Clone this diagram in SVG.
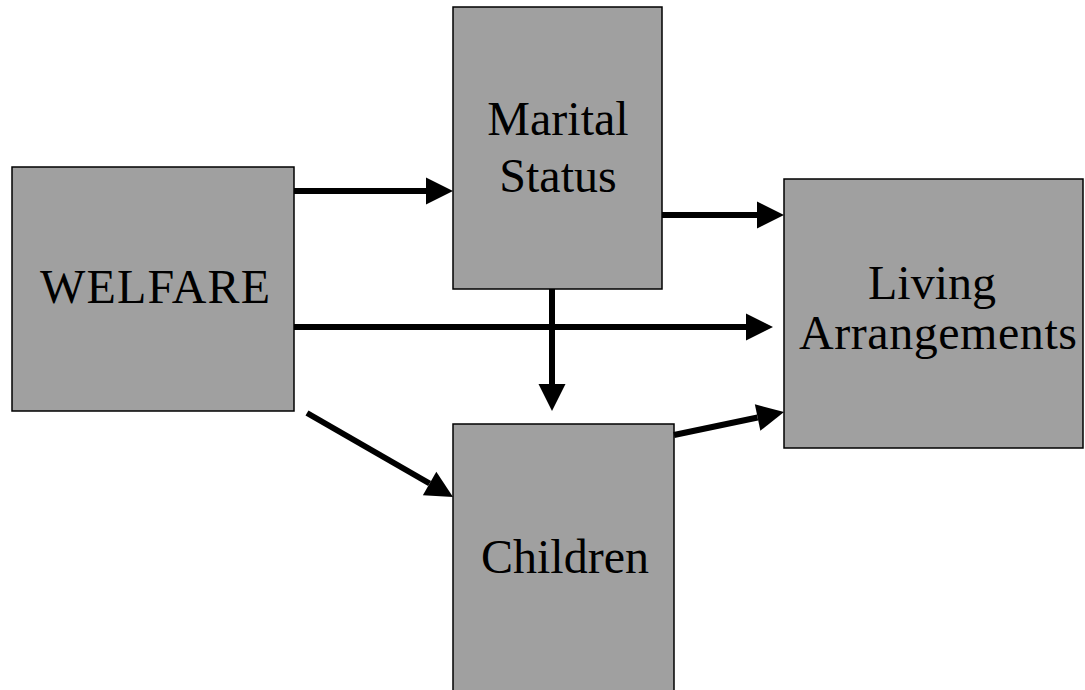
<svg xmlns="http://www.w3.org/2000/svg" width="1085" height="690" viewBox="0 0 1085 690">
<style>
.box{fill:#a0a0a0;stroke:#000;stroke-width:1.5}
.lbl{font-family:"Liberation Serif","Times New Roman",serif;font-size:48px;fill:#000;text-anchor:middle}
.conn{stroke:#000;stroke-width:6;fill:none}
</style>
<defs>
<marker id="ah" markerUnits="userSpaceOnUse" markerWidth="28" markerHeight="28" refX="0" refY="13.5" orient="auto" overflow="visible">
<polygon points="0,0 27,13.5 0,27" fill="#000"/>
</marker>
</defs>
<rect width="1085" height="690" fill="#fff"/>
<g id="welfare">
<rect class="box" x="12" y="167" width="282" height="244"/>
<text class="lbl" x="40" y="303" style="text-anchor:start" textLength="230" lengthAdjust="spacing">WELFARE</text>
</g>
<g id="marital">
<rect class="box" x="453" y="7" width="209" height="282"/>
<text class="lbl" x="558" y="135">Marital</text>
<text class="lbl" x="558" y="192">Status</text>
</g>
<g id="living">
<rect class="box" x="784" y="179" width="299" height="269"/>
<text class="lbl" x="932" y="299">Living</text>
<text class="lbl" x="799" y="349" style="text-anchor:start" textLength="278" lengthAdjust="spacing">Arrangements</text>
</g>
<g id="children">
<rect class="box" x="453" y="424" width="221" height="280"/>
<text class="lbl" x="565" y="573">Children</text>
</g>
<g id="connectors">
<line class="conn" x1="294" y1="191" x2="426" y2="191" marker-end="url(#ah)"/>
<line class="conn" x1="662" y1="215" x2="757" y2="215" marker-end="url(#ah)"/>
<line class="conn" x1="294" y1="327" x2="746" y2="327" marker-end="url(#ah)"/>
<line class="conn" x1="552" y1="289" x2="552" y2="384" marker-end="url(#ah)"/>
<line class="conn" x1="307" y1="413" x2="429.6" y2="483.5" marker-end="url(#ah)"/>
<line class="conn" x1="674" y1="435" x2="757.6" y2="417.5" marker-end="url(#ah)"/>
</g>
</svg>
